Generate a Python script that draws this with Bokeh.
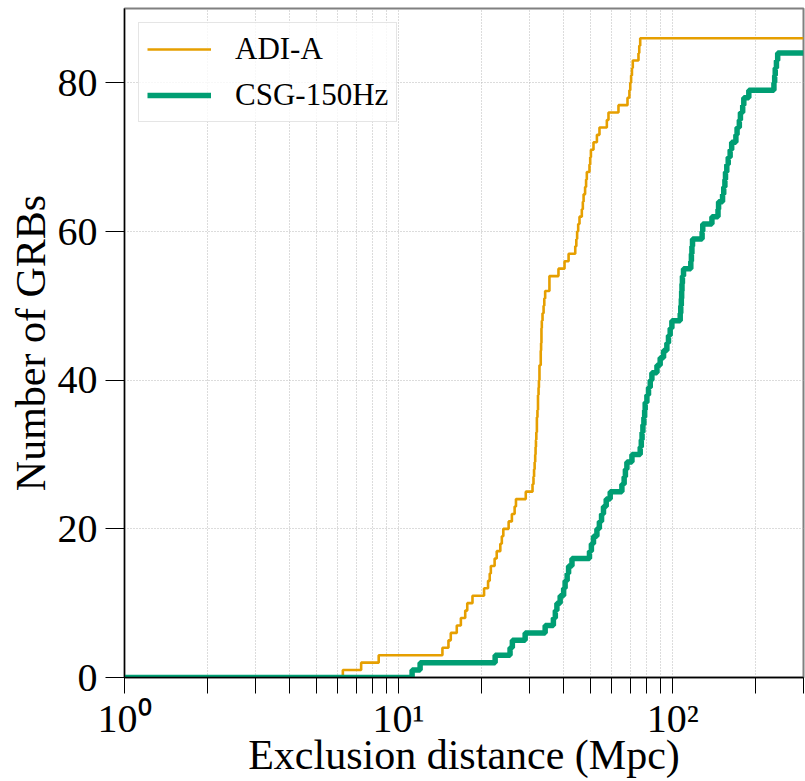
from bokeh.plotting import figure
from bokeh.models import Range1d, FixedTicker, Legend, LegendItem
from bokeh.embed import file_html
from bokeh.resources import INLINE

# ---- data (step points: distance in Mpc where the cumulative count changes) ----
ADI_A_DIST = [1, 6.26, 7.30, 8.46, 14.45, 15.2, 15.5, 16.3, 16.87, 17.5, 17.8, 18.6, 20.5,
              21.2, 21.5, 21.7, 22.4, 22.8, 23.5, 23.8, 24.1, 25.2, 25.9, 26.5, 26.8, 29.1,
              30.8, 31.05, 31.2, 31.35, 31.5, 31.6, 31.7, 31.8, 31.95, 32.1, 32.25, 32.4,
              32.5, 32.65, 33.0, 33.1, 33.2, 33.3, 33.5, 33.8, 34.0, 34.25, 35.5, 38.3,
              40.3, 41.7, 44.1, 44.5, 44.8, 45.2, 45.7, 46.6, 47.0, 47.3, 47.9, 48.3, 48.6,
              49.7, 50.0, 50.3, 51.4, 52.9, 54.05, 57.5, 58.3, 63.4, 68.4, 69.5, 70.0, 70.5,
              71.0, 71.5, 75.0, 75.5, 76.1, 300]
ADI_A_COUNT = [0, 1, 2, 3, 4, 5, 6, 7, 8, 9, 10, 11, 12,
               13, 14, 15, 16, 17, 18, 19, 20, 21, 22, 23, 24, 25,
               26, 27, 28, 29, 30, 31, 32, 33, 35, 36, 38, 39,
               40, 42, 44, 45, 47, 48, 49, 50, 51, 52, 54, 55,
               56, 57, 58, 59, 60, 61, 62, 63, 64, 65, 66, 67, 68,
               69, 70, 71, 72, 73, 74, 75, 76, 77, 78, 79, 80, 81,
               82, 83, 84, 85, 86, 86]

CSG_DIST = [1, 11.2, 11.98, 22.5, 25.5, 26.0, 28.95, 34.25, 36.7, 37.3,
            37.8, 38.85, 40.0, 40.5, 41.2, 41.7, 42.9, 49.7, 50.5, 51.4,
            52.9, 54.0, 55.0, 55.9, 57.2, 59.15, 65.25, 66.5, 67.2, 68.05,
            71.0, 76.1, 76.8, 77.3, 77.85, 78.5, 79.0, 79.35, 80.5, 81.6,
            82.8, 83.95, 87.6, 90.0, 92.6, 95.2, 96.5, 97.9, 99.3, 106.5,
            107.0, 107.5, 107.8, 108.1, 108.5, 109.5, 116.4, 117.0, 117.5, 118.1,
            128.0, 128.7, 139.0, 146.3, 147.0, 152.0, 153.5, 155.0, 155.8, 157.5,
            159.4, 162.0, 164.1, 170.0, 171.7, 175.0, 176.6, 180.0, 181.7, 189.5,
            234.0, 235.5, 236.6, 239.0, 241.5, 300]
CSG_COUNT = [0, 1, 2, 3, 4, 5, 6, 7, 8, 9,
             10, 11, 12, 13, 14, 15, 16, 17, 18, 19,
             20, 21, 22, 23, 24, 25, 26, 27, 28, 29,
             30, 31, 32, 33, 34, 35, 36, 37, 38, 39,
             40, 41, 42, 43, 44, 45, 46, 47, 48, 49,
             50, 51, 52, 53, 54, 55, 56, 57, 58, 59,
             60, 61, 62, 63, 64, 65, 66, 67, 68, 69,
             70, 71, 72, 73, 74, 75, 76, 77, 78, 79,
             80, 81, 82, 83, 84, 84]

X_MAJOR = [1, 10, 100]
X_MINOR = [2, 3, 4, 5, 6, 7, 8, 9, 20, 30, 40, 50, 60, 70, 80, 90, 200, 300]
X_LABELS = {1: "10⁰", 10: "10¹", 100: "10²"}
Y_TICKS = [0, 20, 40, 60, 80]

ORANGE = "#E69F00"
GREEN = "#009E73"
FONT = "Liberation Serif"

p = figure(width=805, height=780, x_axis_type="log",
           x_range=Range1d(1, 300), y_range=Range1d(0, 90),
           output_backend="svg", toolbar_location=None,
           min_border_left=124, min_border_right=2, min_border_top=8, min_border_bottom=102)

p.outline_line_color = "#808080"
p.outline_line_width = 2

r1 = p.step(ADI_A_DIST, ADI_A_COUNT, mode="after", line_color=ORANGE, line_width=2.6)
r2 = p.step(CSG_DIST, CSG_COUNT, mode="after", line_color=GREEN, line_width=5.5)

p.xaxis.ticker = FixedTicker(ticks=X_MAJOR, minor_ticks=X_MINOR)
p.xaxis.major_label_overrides = X_LABELS
p.yaxis.ticker = FixedTicker(ticks=Y_TICKS, minor_ticks=[])

for ax in (p.xaxis[0], p.yaxis[0]):
    ax.axis_line_color = "black"
    ax.axis_line_width = 1.3
    ax.major_tick_line_color = "black"
    ax.minor_tick_line_color = "black"
    ax.major_tick_in = 0
    ax.minor_tick_in = 0
    ax.major_label_text_font = FONT
    ax.major_label_text_font_size = "40px"
    ax.major_label_text_color = "black"
    ax.axis_label_text_font = FONT
    ax.axis_label_text_font_style = "normal"
    ax.axis_label_text_font_size = "42px"
    ax.axis_label_text_color = "black"

p.xaxis.major_tick_out = 16
p.xaxis.minor_tick_out = 16
p.xaxis.major_label_standoff = 2
p.xaxis.axis_label_standoff = -12
p.yaxis.major_tick_out = 19
p.yaxis.minor_tick_out = 0
p.yaxis.major_label_standoff = 8
p.yaxis.axis_label_standoff = 1

p.xaxis.axis_label = "Exclusion distance (Mpc)"
p.yaxis.axis_label = "Number of GRBs"

for g in (p.xgrid[0], p.ygrid[0]):
    g.grid_line_color = "#b8b8b8"
    g.grid_line_dash = "1 2"
    g.grid_line_width = 1
p.xgrid.minor_grid_line_color = "#b8b8b8"
p.xgrid.minor_grid_line_dash = "1 2"
p.xgrid.minor_grid_line_width = 1

legend = Legend(items=[LegendItem(label="ADI-A", renderers=[r1]),
                       LegendItem(label="CSG-150Hz", renderers=[r2])],
                location="top_left", margin=14, padding=8, spacing=10,
                glyph_width=64, glyph_height=32, label_height=32, label_standoff=24,
                label_text_font=FONT, label_text_font_size="31px", label_text_color="black",
                border_line_color="#cccccc", border_line_width=1.5,
                background_fill_color="white", background_fill_alpha=0.8)
p.add_layout(legend)

open("out.html", "w").write(file_html(p, INLINE))
